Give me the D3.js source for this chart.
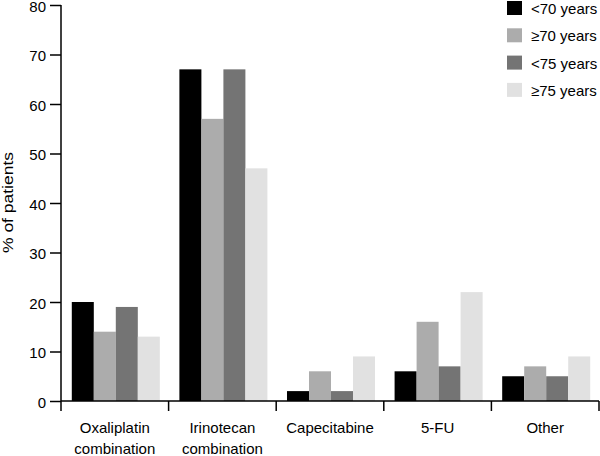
<!DOCTYPE html>
<html>
<head>
<meta charset="utf-8">
<script src="https://cdn.jsdelivr.net/npm/d3@7"></script>
<style>
  html, body { margin: 0; padding: 0; background: #fff; }
  svg { display: block; }
  text { font-family: "Liberation Sans", Arial, Helvetica, sans-serif; fill: #000; }
</style>
</head>
<body>
<svg id="chart" width="600" height="456"></svg>
<script>
const categories = [["Oxaliplatin", "combination"], ["Irinotecan", "combination"], ["Capecitabine"], ["5-FU"], ["Other"]];
const seriesNames = ["<70 years", "\u226570 years", "<75 years", "\u226575 years"];
const seriesColors = ["#000000", "#acacac", "#747474", "#e1e1e1"];
const lt70 = [20, 67, 2, 6, 5];
const ge70 = [14, 57, 6, 16, 7];
const lt75 = [19, 67, 2, 7, 5];
const ge75 = [13, 47, 9, 22, 9];
const yTicks = [0, 10, 20, 30, 40, 50, 60, 70, 80];

const seriesValues = [lt70, ge70, lt75, ge75];
const catKeys = categories.map(c => c.join(" "));

const svg = d3.select("#chart");
const plotLeft = 61, plotRight = 599, plotTop = 5, plotBottom = 401;

const x = d3.scaleBand().domain(catKeys).range([plotLeft, plotRight]).paddingInner(0.182).paddingOuter(0.091);
const xs = d3.scaleBand().domain(seriesNames).range([1, x.bandwidth() + 1]);
const y = d3.scaleLinear().domain([0, 80]).range([plotBottom, plotTop]);

// bars
seriesNames.forEach((s, si) => {
  svg.append("g").selectAll("rect").data(seriesValues[si]).join("rect")
    .attr("x", (d, i) => x(catKeys[i]) + xs(s))
    .attr("y", d => y(d))
    .attr("width", xs.bandwidth())
    .attr("height", d => y(0) - y(d))
    .attr("fill", seriesColors[si]);
});

// y axis
const yAxis = svg.append("g").attr("transform", `translate(${plotLeft},0)`)
  .call(d3.axisLeft(y).tickValues(yTicks).tickSize(11).tickPadding(4).tickSizeOuter(0));
yAxis.selectAll("text").style("font-size", "15px").attr("font-family", "Liberation Sans, Arial, sans-serif")
  .attr("y", 1.5);
yAxis.selectAll("line, path").attr("stroke", "#000").attr("stroke-width", 1.5);
yAxis.select(".domain").attr("d", `M0,${y(80)}V${y(0)}`);

// x axis line
const step = x.step();
const boundaries = catKeys.map(k => x(k) - step * x.paddingInner() / 2).concat([plotRight]);
svg.append("line").attr("x1", plotLeft).attr("x2", plotRight).attr("y1", y(0)).attr("y2", y(0))
  .attr("stroke", "#000").attr("stroke-width", 1.5);
svg.append("g").selectAll("line").data(boundaries).join("line")
  .attr("x1", d => d).attr("x2", d => d).attr("y1", y(0)).attr("y2", y(0) + 10)
  .attr("stroke", "#000").attr("stroke-width", 1.5);

// category labels
categories.forEach((lines, i) => {
  const cx = x(catKeys[i]) + x.bandwidth() / 2;
  const t = svg.append("text").attr("text-anchor", "middle").style("font-size", "15px");
  lines.forEach((ln, li) => {
    t.append("tspan").attr("x", cx).attr("y", 433 + li * 21).text(ln);
  });
});

// y label
svg.append("text").attr("transform", "translate(12.5,202.5) rotate(-90)")
  .attr("text-anchor", "middle").style("font-size", "14.5px")
  .attr("textLength", 101).attr("lengthAdjust", "spacingAndGlyphs")
  .text("% of patients");

// legend
const lg = svg.append("g");
seriesNames.forEach((s, i) => {
  const ly = 1 + i * 27.3;
  lg.append("rect").attr("x", 507).attr("y", ly).attr("width", 15).attr("height", 14).attr("fill", seriesColors[i]);
  lg.append("text").attr("x", 531).attr("y", ly + 13).style("font-size", "15px").text(s);
});
</script>
</body>
</html>
